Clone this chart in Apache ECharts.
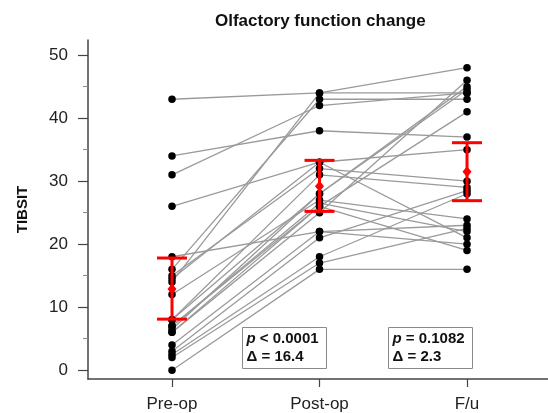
<!DOCTYPE html>
<html>
<head>
<meta charset="utf-8">
<script src="https://cdn.jsdelivr.net/npm/echarts@6/dist/echarts.min.js"></script>
<style>
html,body{margin:0;padding:0;background:#fff;}
#chart{width:548px;height:413px;}
</style>
</head>
<body>
<div id="chart"></div>
<script>
// ---- data ----
const categories = ['Pre-op', 'Post-op', 'F/u'];
// one entry per subject (same index = same subject)
const preOp    = [43, 14, 16, 31, 34, 26, 15, 8, 8, 6.5, 12, 7, 6, 6, 18, 4, 3, 2.5, 2, 0, 14.5, 7];
const postOp   = [44, 44, 43, 42, 38, 33, 32, 31, 28, 28, 27, 26.5, 26, 25, 22, 22, 21, 18, 17, 16, 33, 26];
const followUp = [44, 48, 43, 44, 37, 35, 30, 29, 45, 44.5, 24, 22, 41, 46, 23, 20, 28.5, 28, 22.5, 16, 21, 19];
const meanValues = [12.9, 29.2, 31.5];
const ciLow  = [8.1, 25.2, 26.9];
const ciHigh = [17.8, 33.3, 36.1];
const yTicks = [0, 10, 20, 30, 40, 50];
const yMinorTicks = [5, 15, 25, 35, 45];
const xTicks = [1, 2, 3];
const pLabels = ['< 0.0001', '= 0.1082'];
const deltaLabels = ['16.4', '2.3'];

const chart = echarts.init(document.getElementById('chart'), null, {renderer: 'canvas'});
const FONT = 'Liberation Sans, Arial, sans-serif';

const series = [];
for (let i = 0; i < preOp.length; i++) {
  series.push({
    type: 'line', silent: true, symbol: 'none', z: 1,
    data: [[1, preOp[i]], [2, postOp[i]], [3, followUp[i]]],
    lineStyle: {color: '#9a9a9a', width: 1.3}
  });
}
const dots = [];
for (let i = 0; i < preOp.length; i++) {
  dots.push([1, preOp[i]], [2, postOp[i]], [3, followUp[i]]);
}
series.push({
  type: 'scatter', z: 2, symbolSize: 7.5, data: dots,
  itemStyle: {color: '#000', opacity: 1}
});
series.push({
  type: 'custom', z: 3,
  data: xTicks.map((x, i) => [x, ciLow[i], ciHigh[i]]),
  renderItem: function (params, api) {
    const lo = api.coord([api.value(0), api.value(1)]);
    const hi = api.coord([api.value(0), api.value(2)]);
    const hw = 15;
    const st = {stroke: '#ff0000', lineWidth: 3};
    return {type: 'group', children: [
      {type: 'line', shape: {x1: lo[0], y1: lo[1], x2: hi[0], y2: hi[1]}, style: st},
      {type: 'line', shape: {x1: lo[0] - hw, y1: lo[1], x2: lo[0] + hw, y2: lo[1]}, style: st},
      {type: 'line', shape: {x1: hi[0] - hw, y1: hi[1], x2: hi[0] + hw, y2: hi[1]}, style: st}
    ]};
  }
});
series.push({
  type: 'scatter', z: 4, symbol: 'diamond', symbolSize: [9, 11],
  data: xTicks.map((x, i) => [x, meanValues[i]]),
  itemStyle: {color: '#ff0000', opacity: 1}
});

function box(left, top, pTxt, dTxt) {
  return {
    type: 'group', left: left, top: top, children: [
      {type: 'rect', shape: {x: 0, y: 0, width: 84, height: 41},
       style: {fill: '#fff', stroke: '#8a8a8a', lineWidth: 1}},
      {type: 'text', x: 4, y: 3, style: {
        text: '{i|p} ' + pTxt + '\nΔ = ' + dTxt,
        font: 'bold 15px ' + FONT, fill: '#111', lineHeight: 17.5,
        rich: {i: {fontStyle: 'italic', fontWeight: 'bold', fontSize: 15, fontFamily: FONT}}
      }}
    ]
  };
}

chart.setOption({
  animation: false,
  backgroundColor: '#fff',
  title: {
    text: 'Olfactory function change', left: 210, top: 8,
    textStyle: {fontFamily: FONT, fontWeight: 'bold', fontSize: 17, color: '#111'}
  },
  grid: {left: 88, right: 0, top: 40, bottom: 33},
  xAxis: {
    type: 'value', min: 0.4305, max: 3.549,
    splitLine: {show: false},
    axisLine: {onZero: false, lineStyle: {color: '#444', width: 1.5}},
    axisTick: {customValues: xTicks, length: 8, lineStyle: {color: '#444', width: 1.2}},
    axisLabel: {customValues: xTicks, margin: 17, fontFamily: FONT, fontSize: 17, color: '#222',
      formatter: v => categories[Math.round(v) - 1]}
  },
  yAxis: [{
    type: 'value', min: -1.4, max: 52.4,
    name: 'TIBSIT', nameLocation: 'middle', nameGap: 58, nameRotate: 90,
    nameTextStyle: {fontFamily: FONT, fontWeight: 'bold', fontSize: 15, color: '#111'},
    splitLine: {show: false},
    axisLine: {show: true, lineStyle: {color: '#444', width: 1.5}},
    axisTick: {customValues: yTicks, length: 10, lineStyle: {color: '#444', width: 1.2}},
    axisLabel: {customValues: yTicks, margin: 20, fontFamily: FONT, fontSize: 17, color: '#222'}
  }, {
    type: 'value', min: -1.4, max: 52.4, position: 'left',
    splitLine: {show: false},
    axisLine: {show: false},
    axisTick: {customValues: yMinorTicks, length: 5, lineStyle: {color: '#888', width: 1}},
    axisLabel: {show: false}
  }],
  graphic: [box(242, 327, pLabels[0], deltaLabels[0]), box(388, 327, pLabels[1], deltaLabels[1])],
  series: series
});
</script>
</body>
</html>
